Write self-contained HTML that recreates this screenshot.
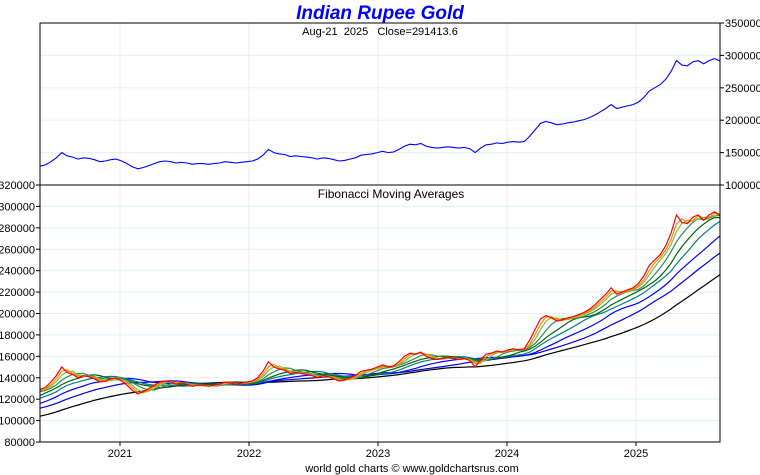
<!DOCTYPE html>
<html><head><meta charset="utf-8"><style>
body{margin:0;background:#fff;}
svg{display:block;font-family:"Liberation Sans",sans-serif;}
</style></head><body>
<svg id="c" width="760" height="475"></svg>
<script>
const pre=[87,88,88,89,90,90,89,88,88,88,89,90,93,96,100,102,103,102,101,100,101,102,103,104,107,110,112,114,117,112,118,122,125,126,127,128];
const prices=[129,131,136,142,150,145,143,140,142,141,139,136,137,139,
140,137,133,128,125,127,130,133,136,137,136,134,135,134,132,133,133,132,133,134,136,135,134,135,
136,137,140,146,155,150,148,147,144,145,144,143,142,140,142,141,139,137,138,140,142,146,147,148,
150,152,150,151,155,160,163,162,164,160,158,157,158,159,158,157,158,156,150,157,162,163,165,164,
166,167,166,167,175,185,195,198,196,193,194,196,197,199,201,204,208,213,218,224,218,220,222,224,
228,235,245,250,255,263,275,292,285,284,290,292,287,292,295,291.4];
const years=[2021,2022,2023,2024,2025];
const topTicks=[100000,150000,200000,250000,300000,350000];
const botTicks=[80000,100000,120000,140000,160000,180000,200000,220000,240000,260000,280000,300000,320000];
const maPeriods=[2,3,5,8,11,16,23,35];
const maColors=["#ff8c00","#7fbf3f","#2e8b57","#006400","#008080","#0000ff","#0000cd","#000000"];

const svg=document.getElementById('c');const NS="http://www.w3.org/2000/svg";
function mk(t,a,p){const e=document.createElementNS(NS,t);for(const k in a)e.setAttribute(k,a[k]);(p||svg).appendChild(e);return e;}
const L=40,R=720,T1=23,B1=185,T2=185,B2=442;
const D0=2020.380,D1=2025.651;
const xs=d=>L+(d-D0)/(D1-D0)*(R-L);
const y1=v=>B1-(v-100000)/250000*(B1-T1);
const y2=v=>B2-(v-80000)/240000*(B2-T2);
const all=pre.concat(prices).map(v=>v*1000);
const s0=pre.length;
const dateOf=i=>D0+(i-s0)*(D1-D0)/(prices.length-1);
for(const t of topTicks){if(t>100000&&t<350000){const g=mk('line',{x1:L,x2:R,y1:y1(t),y2:y1(t),stroke:'#e2f0fa'});}
 const k=mk('line',{x1:R,x2:R+4,y1:y1(t),y2:y1(t),stroke:'#000'});
 const tx=mk('text',{x:R+5,y:y1(t)+4,'font-size':11});tx.textContent=t;}
for(const t of botTicks){if(t>80000&&t<320000){const g=mk('line',{x1:L,x2:R,y1:y2(t),y2:y2(t),stroke:'#e2f0fa'});}
 const k=mk('line',{x1:L-4,x2:L,y1:y2(t),y2:y2(t),stroke:'#000'});
 const tx=mk('text',{x:L-5,y:y2(t)+4,'font-size':11,'text-anchor':'end'});tx.textContent=t;}
for(const yr of years){const x=xs(yr);
 const g=mk('line',{x1:x,x2:x,y1:T1,y2:B2,stroke:'#e2f0fa'});
 const k=mk('line',{x1:x,x2:x,y1:B2,y2:B2+4,stroke:'#000'});
 const tx=mk('text',{x:x,y:B2+15,'font-size':11,'text-anchor':'middle'});tx.textContent=yr;}
let d='';for(let i=s0;i<all.length;i++){d+=(i==s0?'M':'L')+xs(dateOf(i)).toFixed(1)+','+y1(all[i]).toFixed(1);}
const pl=mk('path',{d:d,fill:'none',stroke:'#0000ff','stroke-width':1.1});

for(let m=maPeriods.length-1;m>=0;m--){const p=maPeriods[m];let dd='';
 for(let i=s0;i<all.length;i++){let s=0;for(let j=i-p+1;j<=i;j++)s+=all[j];const v=s/p;dd+=(i==s0?'M':'L')+xs(dateOf(i)).toFixed(1)+','+y2(v).toFixed(1);}
 const e=mk('path',{d:dd,fill:'none',stroke:maColors[m],'stroke-width':1.2});}
let dp='';for(let i=s0;i<all.length;i++){dp+=(i==s0?'M':'L')+xs(dateOf(i)).toFixed(1)+','+y2(all[i]).toFixed(1);}
const rp=mk('path',{d:dp,fill:'none',stroke:'#ff0000','stroke-width':1.2});
const f1=mk('rect',{x:L,y:T1,width:R-L,height:B1-T1,fill:'none',stroke:'#000'});
const f2=mk('rect',{x:L,y:T2,width:R-L,height:B2-T2,fill:'none',stroke:'#000'});
const tt=mk('text',{x:380,y:19,'font-size':19,'font-weight':'bold','font-style':'italic',fill:'#0000ff','text-anchor':'middle'});tt.textContent='Indian Rupee Gold';
const st=mk('text',{x:380,y:35,'font-size':11,'text-anchor':'middle',style:'white-space:pre'});st.textContent='Aug-21  2025   Close=291413.6';
const ft=mk('text',{x:391,y:198,'font-size':12,'text-anchor':'middle'});ft.textContent='Fibonacci Moving Averages';
const cr=mk('text',{x:412,y:472,'font-size':11,'text-anchor':'middle'});cr.textContent='world gold charts © www.goldchartsrus.com';
</script>
</body></html>
